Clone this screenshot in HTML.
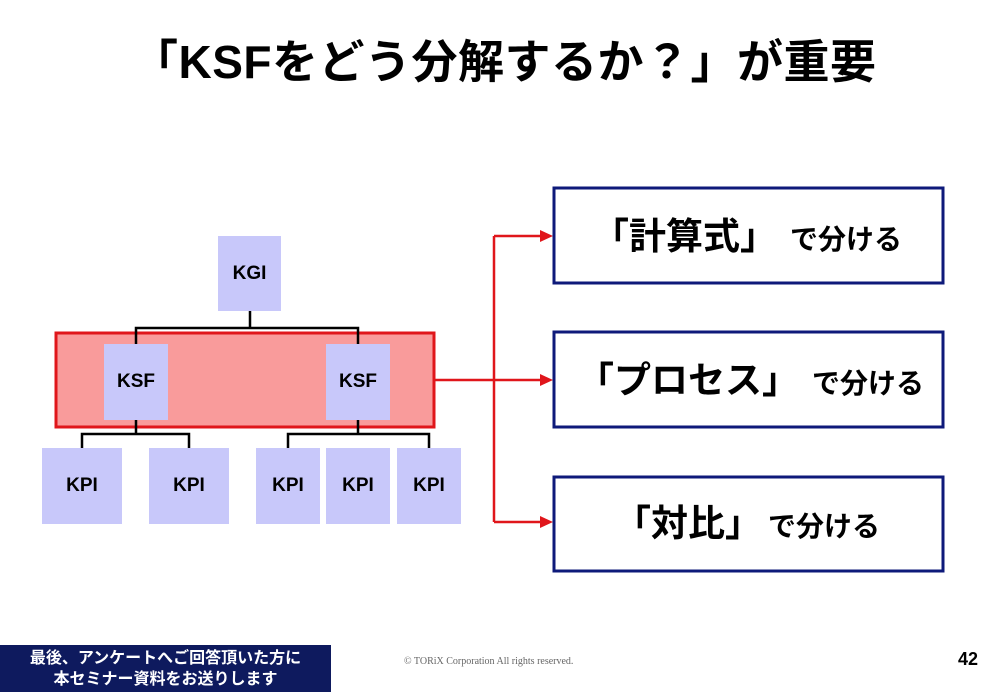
<!DOCTYPE html>
<html><head><meta charset="utf-8"><style>
body{margin:0;width:1000px;height:692px;background:#fff;position:relative;overflow:hidden;font-family:"Liberation Sans","Noto Sans CJK JP",sans-serif;}
.t{position:absolute;white-space:nowrap;font-weight:bold;color:#000;line-height:1;}
.b{position:absolute;background:#c8c8fa;display:flex;align-items:center;justify-content:center;font-weight:bold;font-size:19px;}
</style></head><body>
<div class="t" style="left:132px;top:39px;font-size:46px;letter-spacing:0.5px;">「KSFをどう分解するか？」が重要</div>

<svg style="position:absolute;left:0;top:0" width="1000" height="692">
<rect x="56" y="333" width="378" height="94" fill="#f99b9b" stroke="#e0161b" stroke-width="3"/>
<g stroke="#000" stroke-width="2.5" fill="none">
<path d="M250 311V328M136 344V328H358V344"/>
<path d="M136 420V434M82 448V434H189V448"/>
<path d="M358 420V434M288 448V434H429V448"/>
</g>
<g stroke="#e0161b" stroke-width="2.5" fill="none">
<path d="M435 380H542M494 236V522M494 236H542M494 522H542"/>
</g>
<g fill="#e0161b">
<polygon points="553,236 540,230 540,242"/>
<polygon points="553,380 540,374 540,386"/>
<polygon points="553,522 540,516 540,528"/>
</g>
<g fill="#fff" stroke="#0e1a7a" stroke-width="3">
<rect x="554" y="188" width="389" height="95"/>
<rect x="554" y="332" width="389" height="95"/>
<rect x="554" y="477" width="389" height="94"/>
</g>
</svg>

<div class="b" style="left:218px;top:236px;width:63px;height:75px;">KGI</div>
<div class="b" style="left:104px;top:344px;width:64px;height:76px;">KSF</div>
<div class="b" style="left:326px;top:344px;width:64px;height:76px;">KSF</div>
<div class="b" style="left:42px;top:448px;width:80px;height:76px;">KPI</div>
<div class="b" style="left:149px;top:448px;width:80px;height:76px;">KPI</div>
<div class="b" style="left:256px;top:448px;width:64px;height:76px;">KPI</div>
<div class="b" style="left:326px;top:448px;width:64px;height:76px;">KPI</div>
<div class="b" style="left:397px;top:448px;width:64px;height:76px;">KPI</div>

<div class="t" style="left:592px;top:218px;font-size:37px;">「計算式」</div>
<div class="t" style="left:790px;top:226px;font-size:28px;">で分ける</div>
<div class="t" style="left:577px;top:362px;font-size:37px;">「プロセス」</div>
<div class="t" style="left:812px;top:370px;font-size:28px;">で分ける</div>
<div class="t" style="left:614px;top:505px;font-size:37px;">「対比」</div>
<div class="t" style="left:768px;top:513px;font-size:28px;">で分ける</div>

<div style="position:absolute;left:0;top:645px;width:331px;height:47px;background:#0e1a5e;color:#fff;font-weight:bold;font-size:16px;line-height:21px;text-align:center;padding-top:3px;box-sizing:border-box;">最後、アンケートへご回答頂いた方に<br>本セミナー資料をお送りします</div>
<div style="position:absolute;left:404px;top:656px;font-family:'Liberation Serif',serif;font-size:10px;color:#666;white-space:nowrap;">© TORiX Corporation All rights reserved.</div>
<div class="t" style="left:958px;top:650px;font-size:18px;">42</div>
</body></html>
